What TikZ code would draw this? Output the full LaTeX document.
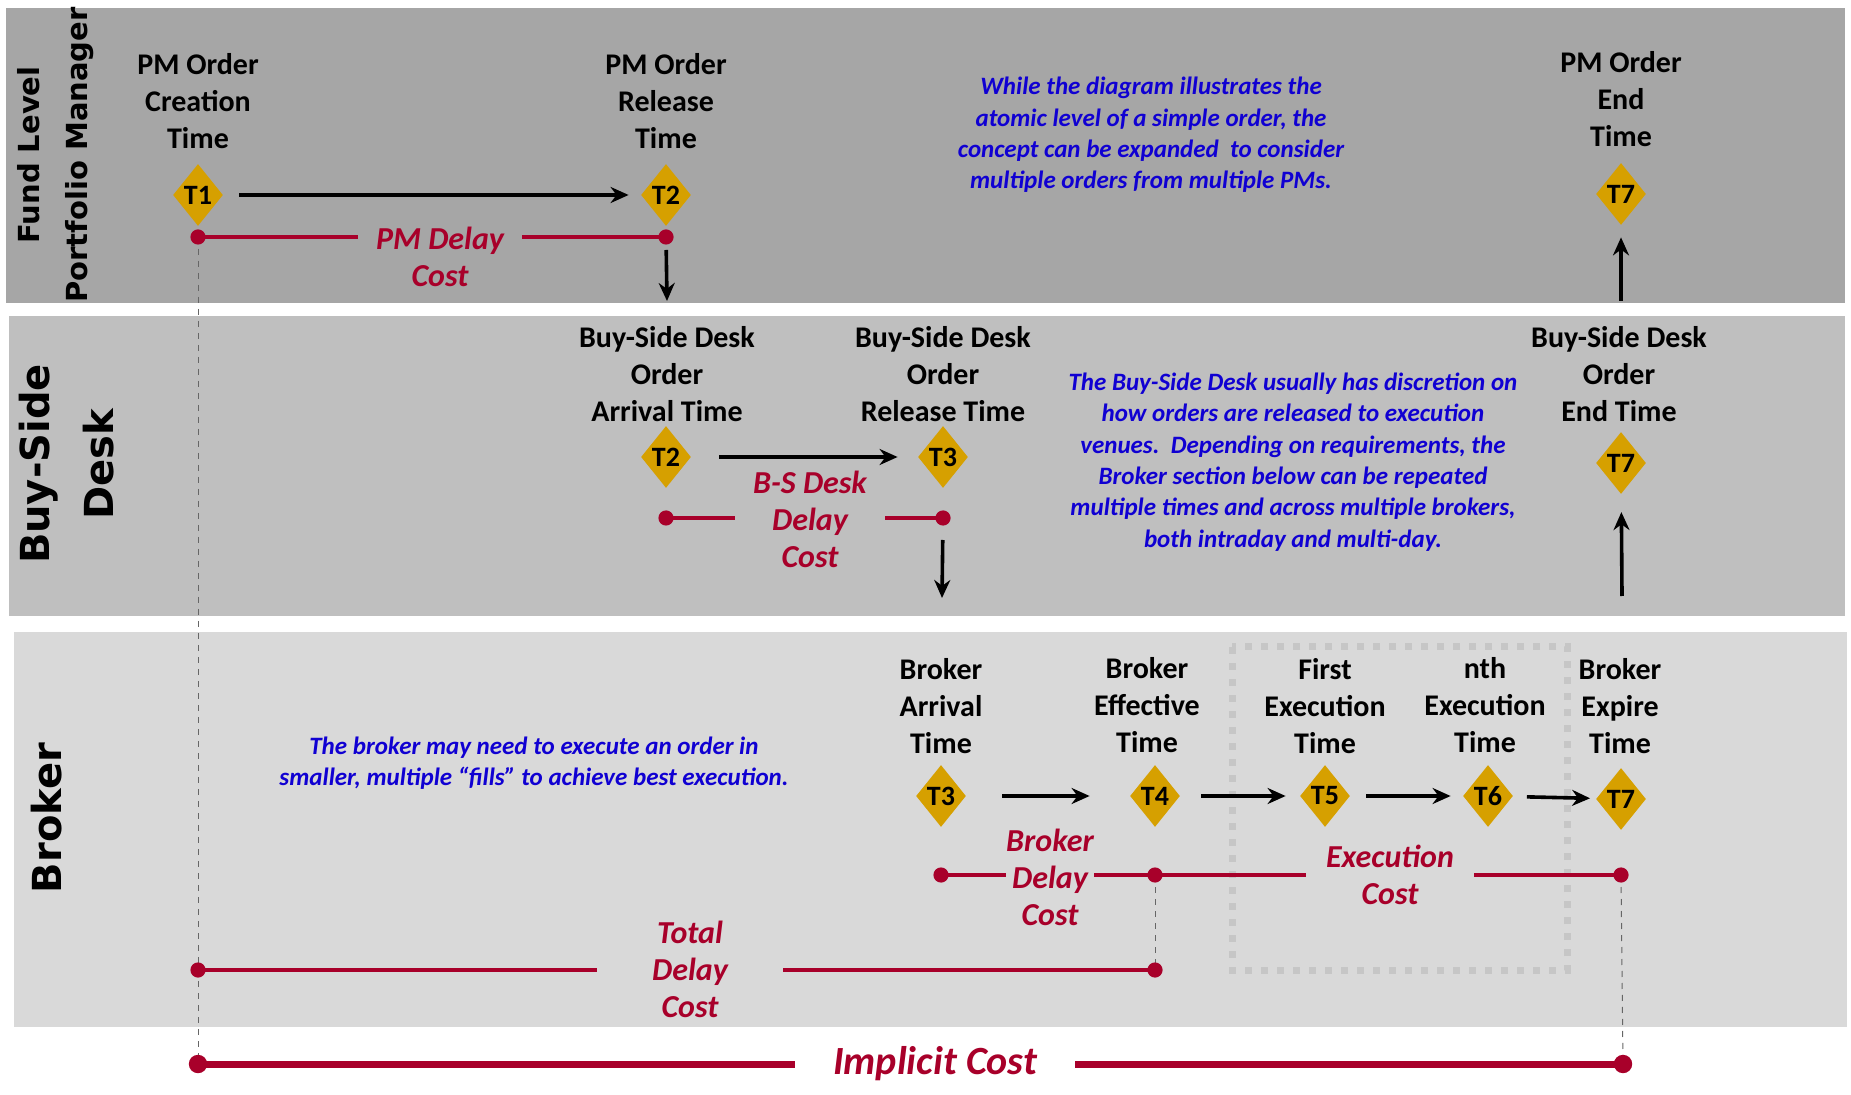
\documentclass[tikz,border=0pt]{standalone}
\usepackage{fontspec}
\setmainfont{Carlito}
\newfontfamily\lanefont{DejaVu Sans}
\usepackage{tikz}
\usetikzlibrary{shapes, positioning, arrows.meta}
\usepackage{xcolor}
\definecolor{bandA}{RGB}{166,166,166}
\definecolor{bandB}{RGB}{191,191,191}
\definecolor{bandC}{RGB}{217,217,217}
\definecolor{boxgrey}{RGB}{198,198,198}
\definecolor{gold}{RGB}{214,160,0}
\definecolor{costred}{RGB}{168,0,42}
\definecolor{noteblue}{RGB}{16,0,210}

\begin{document}
\begin{tikzpicture}[x=0.5pt, y=-0.5pt]

  \tikzstyle{lane} = [rotate=90, align=center, font=\lanefont\bfseries];
  \tikzstyle{stamp} = [diamond, fill=gold, inner sep=0pt, minimum width=25pt, minimum height=31pt, font=\bfseries\fontsize{14}{14}\selectfont];
  \tikzstyle{when} = [align=center, font=\bfseries\fontsize{15}{18.5}\selectfont];
  \tikzstyle{note} = [align=center, text=noteblue, font=\bfseries\itshape\fontsize{12.5}{15.7}\selectfont];
  \tikzstyle{cost} = [align=center, text=costred, inner sep=0pt, font=\bfseries\itshape\fontsize{16}{18.5}\selectfont];
  \tikzstyle{flow} = [-{Stealth[length=9pt, width=8pt]}, line width=1.8pt];
  \tikzstyle{span} = [costred, line width=2pt];
  \tikzstyle{guide} = [black!60, dashed, line width=0.5pt];

  \useasboundingbox (0,0) rectangle (1851,1095);

  % swim lanes
  \fill[bandA] (6,8) rectangle (1845,303);
  \fill[bandB] (9,316) rectangle (1845,616);
  \fill[bandC] (14,632) rectangle (1847,1027);
  \node[lane, font=\lanefont\bfseries\fontsize{14.5}{24}\selectfont] (fund) at (56,155) {Fund Level\\Portfolio Manager};
  \node[lane, font=\lanefont\bfseries\fontsize{20}{32}\selectfont] (desk) at (67,464) {Buy-Side\\Desk};
  \node[lane, font=\lanefont\bfseries\fontsize{20}{24}\selectfont] (broker) at (47,818) {Broker};

  % repeated fills
  \draw[boxgrey, line width=3.5pt, dash pattern=on 3.5pt off 4.5pt] (1232,647) rectangle (1567,970);

  % cost end points
  \coordinate (pm1) at (198,237);
  \coordinate (pm2) at (666,237);
  \coordinate (bs1) at (666,518);
  \coordinate (bs2) at (943,518);
  \coordinate (bd1) at (941,875);
  \coordinate (bd2) at (1155,875);
  \coordinate (ex2) at (1621,875);
  \coordinate (td1) at (198,970);
  \coordinate (td2) at (1155,970);
  \coordinate (im1) at (198,1064);
  \coordinate (im2) at (1623,1064);

  \draw[guide] (pm1) -- (im1);
  \draw[guide] (bd2) -- (td2);
  \draw[guide] (ex2) -- (im2);

  \draw[span] (pm1) -- (pm2);
  \node[cost, fill=bandA, minimum width=82pt] (pmc) at (440,257) {PM Delay\\Cost};
  \draw[span] (bs1) -- (bs2);
  \node[cost, fill=bandB, minimum width=75pt] (bsc) at (810,519) {B-S Desk\\Delay\\Cost};
  \draw[span] (bd1) -- (bd2);
  \node[cost, fill=bandC, minimum width=43pt] (bdc) at (1050,877) {Broker\\Delay\\Cost};
  \draw[span] (bd2) -- (ex2);
  \node[cost, fill=bandC, minimum width=84pt] (exc) at (1390,875) {Execution\\Cost};
  \draw[span] (td1) -- (td2);
  \node[cost, fill=bandC, minimum width=93pt] (tdc) at (690,969) {Total\\Delay\\Cost};
  \draw[costred, line width=3.5pt] (im1) -- (im2);
  \node[cost, fill=white, minimum width=140pt, font=\bfseries\itshape\fontsize{20}{24}\selectfont] (imc) at (935,1064) {Implicit Cost};

  \foreach \c in {pm1,pm2,bs1,bs2,bd1,bd2,ex2,td1,td2}
    \fill[costred] (\c) circle (3.8pt);
  \foreach \c in {im1,im2}
    \fill[costred] (\c) circle (4.6pt);

  % time stamps
  \node[stamp] (t1) at (198,195) {T1};
  \node[stamp] (t2a) at (666,195) {T2};
  \node[stamp] (t7a) at (1621,194) {T7};
  \node[stamp] (t2b) at (666,457) {T2};
  \node[stamp] (t3b) at (943,457) {T3};
  \node[stamp] (t7b) at (1621,463) {T7};
  \node[stamp] (t3c) at (941,796) {T3};
  \node[stamp] (t4c) at (1155,796) {T4};
  \node[stamp] (t5c) at (1325,796) {T5};
  \node[stamp] (t6c) at (1488,796) {T6};
  \node[stamp] (t7c) at (1621,799) {T7};

  \node[when] (l1) at (198,101) {PM Order\\Creation\\Time};
  \node[when] (l2a) at (666,101) {PM Order\\Release\\Time};
  \node[when] (l7a) at (1621,99) {PM Order\\End\\Time};
  \node[when] (l2b) at (667,374) {Buy-Side Desk\\Order\\Arrival Time};
  \node[when] (l3b) at (943,374) {Buy-Side Desk\\Order\\Release Time};
  \node[when] (l7b) at (1619,374) {Buy-Side Desk\\Order\\End Time};
  \node[when] (l3c) at (941,706) {Broker\\Arrival\\Time};
  \node[when] (l4c) at (1147,705) {Broker\\Effective\\Time};
  \node[when] (l5c) at (1325,706) {First\\Execution\\Time};
  \node[when] (l6c) at (1485,705) {nth\\Execution\\Time};
  \node[when] (l7c) at (1620,706) {Broker\\Expire\\Time};

  % hand-offs
  \coordinate (dn1) at (667,301);
  \coordinate (up1) at (1621,301);
  \coordinate (dn2) at (942,598);
  \coordinate (up2) at (1622,596);
  \draw[flow, shorten <=8pt, shorten >=6pt] (t1) -- (t2a);
  \draw[flow, shorten <=6.5pt] (pm2) -- (dn1);
  \draw[flow, shorten >=6pt] (up1) -- (t7a);
  \draw[flow, shorten <=14pt, shorten >=10pt] (t2b) -- (t3b);
  \draw[flow, shorten <=11pt] (bs2) -- (dn2);
  \draw[flow, shorten >=9pt] (up2) -- (t7b);
  \draw[flow, shorten <=18pt, shorten >=20pt] (t3c) -- (t4c);
  \draw[flow, shorten <=10.5pt, shorten >=7pt] (t4c) -- (t5c);
  \draw[flow, shorten <=8pt, shorten >=6pt] (t5c) -- (t6c);
  \draw[flow, shorten <=7pt, shorten >=3pt] (t6c) -- (t7c);

  % notes
  \node[note] (n1) at (1151,135) {While the diagram illustrates the\\atomic level of a simple order, the\\concept can be expanded\ \ to consider\\multiple orders from multiple PMs.};
  \node[note] (n2) at (1293,462) {The Buy-Side Desk usually has discretion on\\how orders are released to execution\\venues.\ \ Depending on requirements, the\\Broker section below can be repeated\\multiple times and across multiple brokers,\\both intraday and multi-day.};
  \node[note] (n3) at (534,763) {The broker may need to execute an order in\\smaller, multiple “fills” to achieve best execution.};

\end{tikzpicture}
\end{document}
